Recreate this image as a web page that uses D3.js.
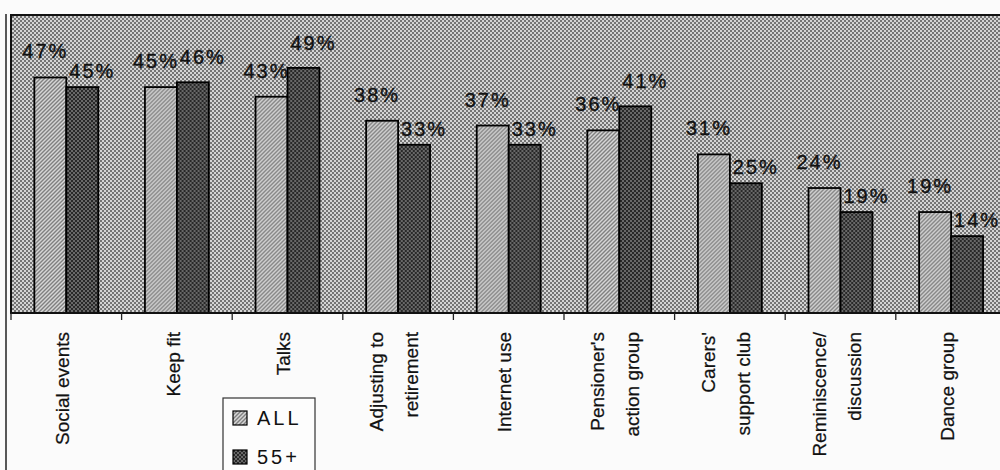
<!DOCTYPE html>
<html>
<head>
<meta charset="utf-8">
<script src="https://cdn.jsdelivr.net/npm/d3@7"></script>
<style>
  body { margin: 0; background: #fbfbfb; }
  svg { display: block; font-family: "Liberation Sans", Arial, sans-serif; }
</style>
</head>
<body>
<svg width="1000" height="470"></svg>
<script>
// categories, "\n" marks a line break in the rotated label
var categories = ["Social events", "Keep fit", "Talks", "Adjusting to\nretirement", "Internet use",
  "Pensioner's\naction group", "Carers'\nsupport club", "Reminiscence/\ndiscussion", "Dance group"];
var series = ["ALL", "55+"];
var allValues = [47, 45, 43, 38, 37, 36, 31, 24, 19];
var over55Values = [45, 46, 49, 33, 33, 41, 25, 19, 14];

var svg = d3.select("svg");
var width = +svg.attr("width");
var height = +svg.attr("height");

var plotLeft = 11, plotTop = 15, plotBottom = 313;
var step = 110.6;

var x = d3.scaleBand()
    .domain(categories)
    .range([plotLeft, plotLeft + step * categories.length]);

var xSub = d3.scaleBand()
    .domain(series)
    .range([0, x.bandwidth()])
    .paddingOuter(0.73);

// the original value axis sits a little below zero
var y = d3.scaleLinear()
    .domain([-2, 60])
    .range([plotBottom, plotTop]);

var rows = categories.map(function(c, i) {
  return { cat: c, all: allValues[i], values: [
    { key: "ALL", v: allValues[i] },
    { key: "55+", v: over55Values[i] }
  ] };
});

// halftone-ish fills
var defs = svg.append("defs");

function checker(id, light, dark) {
  var p = defs.append("pattern")
      .attr("id", id)
      .attr("width", 4).attr("height", 4)
      .attr("patternUnits", "userSpaceOnUse");
  p.append("rect").attr("width", 4).attr("height", 4).attr("fill", light);
  p.append("rect").attr("width", 2).attr("height", 2).attr("fill", dark);
  p.append("rect").attr("x", 2).attr("y", 2).attr("width", 2).attr("height", 2).attr("fill", dark);
}
checker("bgPat", "#d4d4d4", "#747474");
checker("darkPat", "#686868", "#282828");

var hatch = defs.append("pattern")
    .attr("id", "lightPat")
    .attr("width", 4).attr("height", 4)
    .attr("patternUnits", "userSpaceOnUse");
hatch.append("rect").attr("width", 4).attr("height", 4).attr("fill", "#d6d6d6");
hatch.append("path")
    .attr("d", "M-1,1 L1,-1 M0,4 L4,0 M3,5 L5,3")
    .attr("stroke", "#808080")
    .attr("stroke-width", 1.4);

var fills = { "ALL": "url(#lightPat)", "55+": "url(#darkPat)" };

// chart area edge on the far left
svg.append("line")
    .attr("x1", 6).attr("x2", 6)
    .attr("y1", plotTop - 1).attr("y2", height)
    .attr("stroke", "#222")
    .attr("stroke-width", 1.5);

// plot area
svg.append("rect")
    .attr("x", plotLeft)
    .attr("y", plotTop)
    .attr("width", width)
    .attr("height", plotBottom - plotTop)
    .attr("fill", "url(#bgPat)")
    .attr("stroke", "#111")
    .attr("stroke-width", 2);

var group = svg.append("g")
  .selectAll("g")
  .data(rows)
  .enter().append("g")
    .attr("transform", function(d) { return "translate(" + x(d.cat) + ",0)"; });

group.selectAll("rect")
  .data(function(d) { return d.values; })
  .enter().append("rect")
    .attr("x", function(d) { return xSub(d.key); })
    .attr("y", function(d) { return y(d.v); })
    .attr("width", xSub.bandwidth())
    .attr("height", function(d) { return plotBottom - y(d.v); })
    .attr("fill", function(d) { return fills[d.key]; })
    .attr("stroke", "#000")
    .attr("stroke-width", 1.8);

// value labels, nudged like the original
group.selectAll("text")
  .data(function(d) {
    return d.values.map(function(v) { return { key: v.key, v: v.v, all: d.all }; });
  })
  .enter().append("text")
    .attr("x", function(d) {
      return xSub(d.key) + xSub.bandwidth() / 2 + (d.key == "ALL" ? -5 : 10);
    })
    .attr("y", function(d) {
      if (d.key == "ALL") return y(d.v) - 19;
      return y(d.v) - (d.v < d.all ? 9 : 18);
    })
    .attr("text-anchor", "middle")
    .attr("font-size", 20)
    .attr("letter-spacing", "2px")
    .attr("fill", "#111")
    .attr("stroke", "#111")
    .attr("stroke-width", 0.35)
    .text(function(d) { return d.v + "%"; });

// category axis
svg.append("line")
    .attr("x1", plotLeft).attr("x2", width)
    .attr("y1", plotBottom).attr("y2", plotBottom)
    .attr("stroke", "#111")
    .attr("stroke-width", 2);

svg.append("g")
  .selectAll("line")
  .data(categories)
  .enter().append("line")
    .attr("x1", function(d) { return x(d); })
    .attr("x2", function(d) { return x(d); })
    .attr("y1", plotBottom)
    .attr("y2", plotBottom + 7)
    .attr("stroke", "#222")
    .attr("stroke-width", 1.3);

var catLabel = svg.append("g")
  .selectAll("text")
  .data(categories)
  .enter().append("text")
    .attr("transform", function(d) {
      return "translate(" + (x(d) + x.bandwidth() / 2 - 4) + ",332) rotate(-90)";
    })
    .attr("text-anchor", "end")
    .attr("font-size", 19)
    .attr("fill", "#111")
    .attr("stroke", "#111")
    .attr("stroke-width", 0.25);

catLabel.selectAll("tspan")
  .data(function(d) {
    var lines = d.split("\n");
    return lines.map(function(t, i) { return { t: t, off: (i - (lines.length - 1) / 2) * 35 }; });
  })
  .enter().append("tspan")
    .attr("x", 0)
    .attr("y", function(d) { return d.off; })
    .attr("dy", "0.35em")
    .text(function(d) { return d.t; });

// legend
var legend = svg.append("g").attr("transform", "translate(223,398)");
legend.append("rect")
    .attr("width", 92)
    .attr("height", 90)
    .attr("fill", "#fdfdfd")
    .attr("stroke", "#333")
    .attr("stroke-width", 1.2);

var item = legend.selectAll("g")
  .data(series)
  .enter().append("g")
    .attr("transform", function(d, i) { return "translate(10," + (13 + i * 39) + ")"; });

item.append("rect")
    .attr("width", 14)
    .attr("height", 14)
    .attr("fill", function(d) { return fills[d]; })
    .attr("stroke", "#000")
    .attr("stroke-width", 1.2);

item.append("text")
    .attr("x", 24)
    .attr("y", 14)
    .attr("font-size", 20)
    .attr("letter-spacing", "3px")
    .attr("fill", "#111")
    .text(function(d) { return d; });
</script>
</body>
</html>
